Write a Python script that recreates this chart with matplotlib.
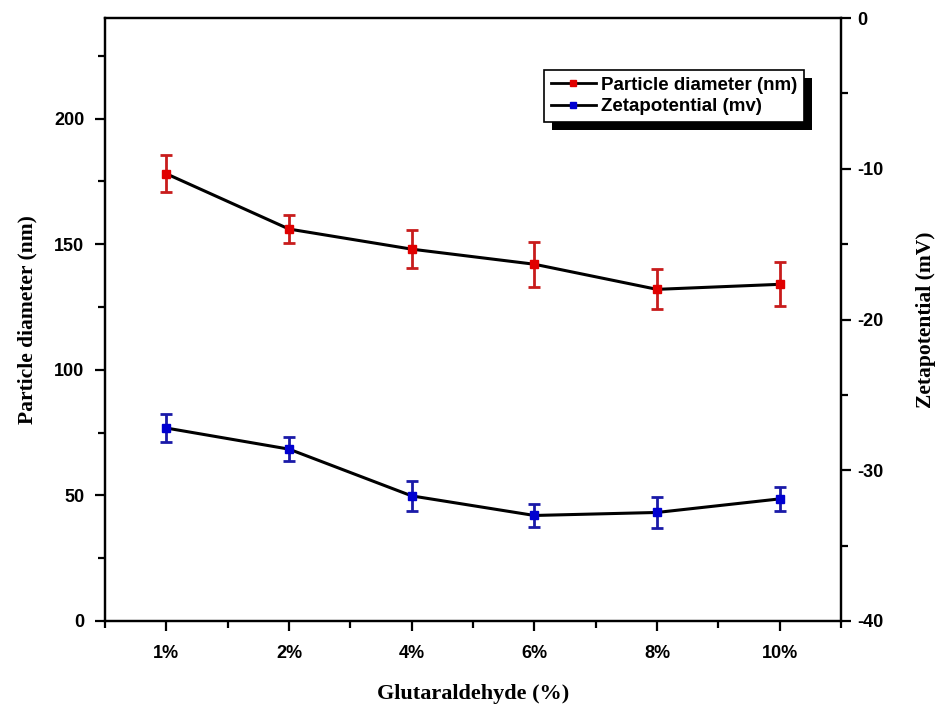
import numpy as np
import matplotlib
matplotlib.use("Agg")
import matplotlib.pyplot as plt
from matplotlib.lines import Line2D
from matplotlib.patches import Rectangle
from matplotlib.transforms import IdentityTransform
from matplotlib.ticker import MultipleLocator, FixedLocator

plt.rcParams["axes.unicode_minus"] = False

# data
conc_labels = ["1%", "2%", "4%", "6%", "8%", "10%"]
diameter = [178, 156, 148, 142, 132, 134]          # nm
diameter_err = [7.3, 5.5, 7.5, 9.0, 8.0, 8.8]
zeta = [-27.2, -28.6, -31.7, -33.0, -32.8, -31.9]   # mV
zeta_err = [0.95, 0.8, 1.0, 0.76, 1.05, 0.8]

sans = ["Liberation Sans", "DejaVu Sans"]
serif = ["Liberation Serif", "DejaVu Serif"]

fig = plt.figure(figsize=(9.37, 7.06), dpi=100)
ax = fig.add_axes([0.1121, 0.1204, 0.7854, 0.8541])
ax2 = ax.twinx()

x = np.arange(1, len(conc_labels) + 1)

# particle diameter (left axis)
ax.plot(x, diameter, color="black", lw=2.2, zorder=2)
ax.errorbar(x, diameter, yerr=diameter_err, fmt="s", color="#e00000",
            ecolor="#c81c1c", elinewidth=2, capsize=4.5, capthick=2,
            markersize=5.5, zorder=3)

# zeta potential (right axis)
ax2.plot(x, zeta, color="black", lw=2.2, zorder=2)
ax2.errorbar(x, zeta, yerr=zeta_err, fmt="s", color="#0000d0",
             ecolor="#1a1aa8", elinewidth=2, capsize=4.5, capthick=2,
             markersize=5.5, zorder=3)

ax.set_xlim(0.5, 6.5)
ax.set_ylim(0, 240)
ax2.set_ylim(-40, 0)

ax.xaxis.set_major_locator(FixedLocator(x))
ax.set_xticklabels(conc_labels)
ax.xaxis.set_minor_locator(FixedLocator(np.arange(0.5, 7, 1)))
ax.yaxis.set_major_locator(FixedLocator([0, 50, 100, 150, 200]))
ax.yaxis.set_minor_locator(MultipleLocator(25))
ax2.yaxis.set_major_locator(MultipleLocator(10))
ax2.yaxis.set_minor_locator(MultipleLocator(5))

for a in (ax, ax2):
    for s in a.spines.values():
        s.set_linewidth(1.6)
    a.tick_params(which="major", direction="out", length=7, width=1.6)
    a.tick_params(which="minor", direction="out", length=5, width=1.6)
    for lab in a.get_xticklabels() + a.get_yticklabels():
        lab.set_family(sans)
        lab.set_fontweight("bold")
        lab.set_fontsize(13)
ax.tick_params(axis="x", which="major", pad=10)
ax.tick_params(axis="y", which="major", pad=8)
ax2.tick_params(axis="y", which="major", pad=5)

ax.set_xlabel("Glutaraldehyde (%)", family=serif, fontweight="bold",
              fontsize=16, labelpad=16)
ax.set_ylabel("Particle diameter (nm)", family=serif, fontweight="bold",
              fontsize=15.5, labelpad=12)
ax2.set_ylabel("Zetapotential (mV)", family=serif, fontweight="bold",
               fontsize=15.5, labelpad=23)

# legend with the black drop shadow
h1 = Line2D([], [], color="black", lw=2, marker="s", markersize=4.5,
            markerfacecolor="#e00000", markeredgecolor="#e00000")
h2 = Line2D([], [], color="black", lw=2, marker="s", markersize=4.5,
            markerfacecolor="#0000d0", markeredgecolor="#0000d0")
leg = ax2.legend([h1, h2], ["Particle diameter (nm)", "Zetapotential (mv)"],
                 loc="upper right", bbox_to_anchor=(0.95, 0.914),
                 borderaxespad=0, fancybox=False, framealpha=1,
                 edgecolor="black", handlelength=2.4, handletextpad=0.3,
                 borderpad=0.35, labelspacing=0.25, numpoints=1,
                 prop={"family": sans, "weight": "bold", "size": 13.5})
leg.get_frame().set_linewidth(1.2)

fig.canvas.draw()
bb = leg.get_window_extent()
shadow = Rectangle((bb.x0 + 8, bb.y0 - 8), bb.width, bb.height,
                   transform=IdentityTransform(), facecolor="black",
                   edgecolor="none", zorder=4.9)
ax2.add_artist(shadow)
shadow.set_clip_on(False)

fig.savefig("out.png", dpi=100)
